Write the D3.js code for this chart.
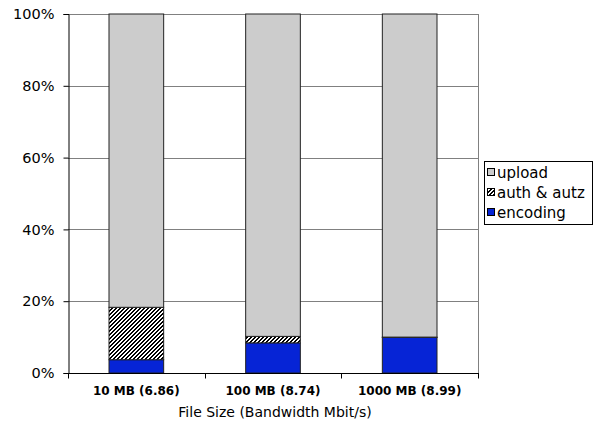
<!DOCTYPE html>
<html>
<head>
<meta charset="utf-8">
<script src="https://cdn.jsdelivr.net/npm/d3@7/dist/d3.min.js"></script>
<style>
  html, body { margin: 0; padding: 0; background: #fff; }
  text { font-family: "DejaVu Sans", Verdana, sans-serif; }
</style>
</head>
<body>
<svg id="chart" width="594" height="425"></svg>
<script>
// ---- data ----
const categories = ["10 MB (6.86)", "100 MB (8.74)", "1000 MB (8.99)"];
const encoding = [3.7, 8.4, 9.9];
const authAutz = [14.6, 1.8, 0.1];
const upload = [81.7, 89.8, 90.0];
const seriesNames = ["encoding", "auth & autz", "upload"];
const yTicks = [0, 20, 40, 60, 80, 100];
const xTitle = "File Size (Bandwidth Mbit/s)";

const svg = d3.select("#chart");
const margin = { left: 68, right: 116, top: 14, bottom: 52 };
const W = 594, H = 425;
const x0 = margin.left, x1 = W - margin.right, y0 = H - margin.bottom, y1 = margin.top;

const defs = svg.append("defs");
const pat = defs.append("pattern").attr("id", "hatch").attr("patternUnits", "userSpaceOnUse")
  .attr("width", 4).attr("height", 4);
pat.append("rect").attr("width", 4).attr("height", 4).attr("fill", "#fff");
// crisp pixel diagonal stripes "/"
const px = [];
for (let r = 0; r < 4; r++) { px.push([r, (3 - r + 4) % 4]); px.push([r, (4 - r) % 4]); }
pat.selectAll("rect.p").data(px).join("rect").attr("class", "p")
  .attr("x", d => d[1]).attr("y", d => d[0]).attr("width", 1).attr("height", 1)
  .attr("fill", "#000").attr("shape-rendering", "crispEdges");

const colors = { "encoding": "#0624d6", "auth & autz": "url(#hatch)", "upload": "#cccccc" };

const x = d3.scaleBand().domain(categories).range([x0, x1]).paddingInner(0.6).paddingOuter(0.3);
const y = d3.scaleLinear().domain([0, 100]).range([y0, y1]);

// gridlines
svg.append("g").selectAll("line").data(yTicks.filter(d => d > 0)).join("line")
  .attr("x1", x0).attr("x2", x1)
  .attr("y1", d => Math.round(y(d)) + 0.5).attr("y2", d => Math.round(y(d)) + 0.5)
  .attr("stroke", "#808080").attr("stroke-width", 1);
// right border
svg.append("line").attr("x1", x1 + 0.5).attr("x2", x1 + 0.5).attr("y1", y1).attr("y2", y0)
  .attr("stroke", "#808080");

// stacked data
const rows = categories.map((c, i) => ({ cat: c, "encoding": encoding[i], "auth & autz": authAutz[i], "upload": upload[i] }));
const stack = d3.stack().keys(seriesNames)(rows);

svg.append("g").selectAll("g").data(stack).join("g")
  .attr("fill", d => colors[d.key])
  .selectAll("rect").data(d => d).join("rect")
  .attr("x", d => x(d.data.cat))
  .attr("width", x.bandwidth())
  .attr("y", d => y(d[1]))
  .attr("height", d => y(d[0]) - y(d[1]))
  .attr("stroke", "#222").attr("stroke-width", 1);

// y axis
const yAxis = d3.axisLeft(y).tickValues(yTicks).tickFormat(d => d + "%").tickSize(5).tickPadding(9);
const gy = svg.append("g").attr("transform", `translate(${x0 + 0.5},0)`).call(yAxis);
gy.select(".domain").attr("stroke", "#000");
gy.selectAll(".tick line").attr("stroke", "#000");
gy.selectAll("text").attr("font-size", 14.5).attr("fill", "#000")
  .attr("font-family", "DejaVu Sans, Verdana, sans-serif");

// x axis
const gx = svg.append("g").attr("transform", `translate(0,${y0 + 0.5})`);
gx.append("line").attr("x1", x0).attr("x2", x1 + 1).attr("stroke", "#000");
const bounds = [0, 1, 2, 3].map(i => x0 + i * (x1 - x0) / 3);
gx.selectAll("line.tk").data(bounds).join("line").attr("class", "tk")
  .attr("x1", d => Math.round(d) + 0.5).attr("x2", d => Math.round(d) + 0.5)
  .attr("y1", 0).attr("y2", 5).attr("stroke", "#000");
gx.selectAll("text").data(categories).join("text")
  .attr("x", d => x(d) + x.bandwidth() / 2).attr("y", 21)
  .attr("text-anchor", "middle").attr("font-size", 12).attr("font-weight", "bold")
  .text(d => d);

svg.append("text").attr("x", (x0 + x1) / 2 + 2).attr("y", 417).attr("text-anchor", "middle")
  .attr("font-size", 14).text(xTitle);

// legend
const lg = svg.append("g");
lg.append("rect").attr("x", 484.5).attr("y", 161.5).attr("width", 108).attr("height", 63)
  .attr("fill", "#fff").attr("stroke", "#000");
const legendItems = ["upload", "auth & autz", "encoding"];
legendItems.forEach((k, i) => {
  const yy = 178 + i * 20;
  lg.append("rect").attr("x", 487.5).attr("y", yy - 9.5).attr("width", 7).attr("height", 7)
    .attr("fill", colors[k]).attr("stroke", "#000");
  lg.append("text").attr("x", 497).attr("y", yy).attr("font-size", 15).text(k);
});
</script>
</body>
</html>
